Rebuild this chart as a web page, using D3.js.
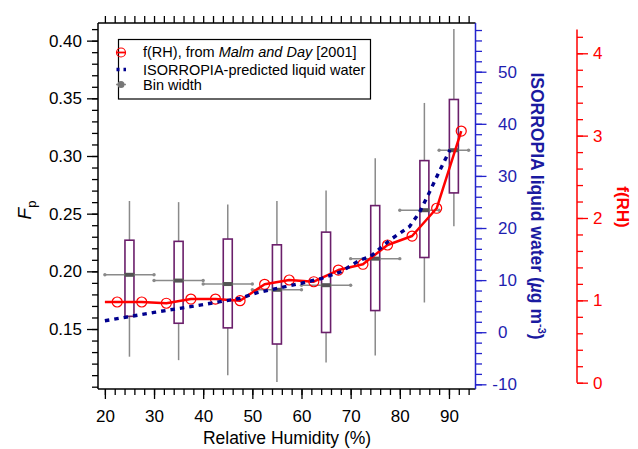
<!DOCTYPE html>
<html>
<head>
<meta charset="utf-8">
<script src="https://cdn.jsdelivr.net/npm/d3@7"></script>
<style>
  body { margin: 0; background: #fff; }
  svg { display: block; font-family: "Liberation Sans", Arial, Helvetica, sans-serif; }
</style>
</head>
<body>
<svg id="chart" width="638" height="449"></svg>
<script>
// ---- Fp box statistics per RH bin ----
const boxRH   = [25, 35, 45, 55, 65, 75, 85, 91];
const binLo   = [20, 30, 40, 50, 60, 70, 80, 88];
const binHi   = [30, 40, 50, 60, 70, 80, 88, 94];
const whiskLo = [0.126, 0.123, 0.110, 0.104, 0.121, 0.127, 0.173, 0.239];
const q1      = [0.161, 0.155, 0.151, 0.137, 0.147, 0.166, 0.212, 0.268];
const median  = [0.197, 0.192, 0.189, 0.184, 0.188, 0.211, 0.253, 0.305];
const q3      = [0.227, 0.226, 0.228, 0.223, 0.234, 0.257, 0.296, 0.349];
const whiskHi = [0.261, 0.260, 0.258, 0.261, 0.270, 0.298, 0.346, 0.410];

// ---- f(RH) from Malm and Day [2001] ----
const frhRH  = [20, 22.5, 27.5, 32.5, 37.5, 42.5, 47.5, 52.5, 57.5, 62.5, 67.5, 72.5, 77.5, 82.5, 87.5, 92.5];
const frhVal = [0.98, 0.98, 0.98, 0.965, 1.016, 1.016, 0.996, 1.195, 1.247, 1.226, 1.368, 1.438, 1.672, 1.781, 2.118, 3.056];
const frhMarked = [false, true, true, true, true, true, true, true, true, true, true, true, true, true, true, true];

// ---- ISORROPIA-predicted liquid water (ug m-3) ----
const lwRH  = [20, 30, 40, 47.5, 51, 60, 64, 68, 72, 74, 78, 82, 84, 86, 88, 90.2];
const lwVal = [2.2, 3.8, 5.3, 6.5, 7.6, 9.4, 10.3, 11.6, 13.9, 14.5, 17.7, 20.3, 23.0, 26.8, 30.8, 35.0];

// ---- tick values ----
const xMajor   = [20, 30, 40, 50, 60, 70, 80, 90];
const fpMajor  = [0.15, 0.20, 0.25, 0.30, 0.35, 0.40];
const lwMajor  = [-10, 0, 10, 20, 30, 40, 50];
const frhMajor = [0, 1, 2, 3, 4];

const xMinor   = d3.range(20, 95, 2);
const fpMinor  = d3.range(10, 42).map(d => d / 100);
const lwMinor  = d3.range(-10, 59, 2);
const frhMinor = d3.range(0, 22).map(d => d / 5);

// ---- layout ----
const L = 98, R = 475.5, T = 23, B = 389;
const BLUE_AXIS = "#2323cc", BLUE_TEXT = "#1e1eb0", BLUE_TITLE = "#1a1aa0";
const RED = "#ff0000", PURPLE = "#6b1f6b", GREY = "#8a8a8a";

const svg = d3.select("#chart");

const x   = d3.scaleLinear().domain([18.6, 95.4]).range([L, R]);
const yF  = d3.scaleLinear().domain([0.098, 0.4153]).range([B, T]);
const yLW = d3.scaleLinear().domain([-10.9, 59.35]).range([B, T]);
const yR  = d3.scaleLinear().domain([0, 4.29]).range([382.7, 29.4]);

function styleAxis(g, color, fontSize) {
  g.attr("font-family", null).attr("font-size", null);
  g.select(".domain").remove();
  g.selectAll(".tick line").attr("stroke", color).attr("stroke-width", 1.3);
  g.selectAll(".tick text").attr("fill", color).style("font-size", fontSize + "px");
}

// bottom axis
svg.append("g").attr("transform", `translate(0,${B})`)
  .call(d3.axisBottom(x).tickValues(xMinor).tickSize(6).tickFormat(""))
  .call(g => styleAxis(g, "#000", 17));
svg.append("g").attr("transform", `translate(0,${B})`)
  .call(d3.axisBottom(x).tickValues(xMajor).tickSize(10).tickPadding(11).tickFormat(d3.format("d")))
  .call(g => styleAxis(g, "#000", 17));

// top axis (ticks only)
svg.append("g").attr("transform", `translate(0,${T})`)
  .call(d3.axisTop(x).tickValues(xMinor).tickSize(7).tickFormat(""))
  .call(g => styleAxis(g, "#000", 17));

// left axis
svg.append("g").attr("transform", `translate(${L},0)`)
  .call(d3.axisLeft(yF).tickValues(fpMinor).tickSize(6).tickFormat(""))
  .call(g => styleAxis(g, "#000", 17));
svg.append("g").attr("transform", `translate(${L},0)`)
  .call(d3.axisLeft(yF).tickValues(fpMajor).tickSize(11).tickPadding(5).tickFormat(d3.format(".2f")))
  .call(g => styleAxis(g, "#000", 17));

// right axis: liquid water
svg.append("g").attr("transform", `translate(${R},0)`)
  .call(d3.axisRight(yLW).tickValues(lwMinor).tickSize(6.5).tickFormat(""))
  .call(g => styleAxis(g, BLUE_AXIS, 17));
svg.append("g").attr("transform", `translate(${R},0)`)
  .call(d3.axisRight(yLW).tickValues(lwMajor).tickSize(11).tickPadding(11.5).tickFormat(d => String(d)))
  .call(g => {
    styleAxis(g, BLUE_AXIS, 17);
    g.selectAll(".tick text").attr("fill", BLUE_TEXT).attr("dx", d => d < 0 ? "-0.333em" : null);
  });

// far right axis: f(RH)
svg.append("g").attr("transform", "translate(577,0)")
  .call(d3.axisRight(yR).tickValues(frhMinor).tickSize(6).tickFormat(""))
  .call(g => styleAxis(g, RED, 17));
svg.append("g").attr("transform", "translate(577,0)")
  .call(d3.axisRight(yR).tickValues(frhMajor).tickSize(11).tickPadding(5).tickFormat(d3.format("d")))
  .call(g => styleAxis(g, RED, 17));
svg.append("line")
  .attr("x1", 577).attr("x2", 577).attr("y1", yR.range()[0]).attr("y2", yR.range()[1])
  .attr("stroke", RED).attr("stroke-width", 1.5);

// plot frame
const frame = svg.append("g").attr("stroke-width", 1.5).attr("fill", "none");
frame.append("line").attr("x1", L).attr("x2", L).attr("y1", T).attr("y2", B).attr("stroke", "#000");
frame.append("line").attr("x1", L).attr("x2", R).attr("y1", T).attr("y2", T).attr("stroke", "#000");
frame.append("line").attr("x1", L).attr("x2", R).attr("y1", B).attr("y2", B).attr("stroke", "#000");
frame.append("line").attr("x1", R).attr("x2", R).attr("y1", T).attr("y2", B).attr("stroke", BLUE_AXIS);

// ---- box plots ----
const boxes = boxRH.map((rh, i) => ({
  rh, lo: binLo[i], hi: binHi[i],
  wl: whiskLo[i], q1: q1[i], med: median[i], q3: q3[i], wh: whiskHi[i]
}));
const BW = 9;
const bx = svg.append("g");
bx.selectAll(".wh").data(boxes).join("line")
  .attr("x1", d => x(d.rh)).attr("x2", d => x(d.rh))
  .attr("y1", d => yF(d.wh)).attr("y2", d => yF(d.q3))
  .attr("stroke", GREY).attr("stroke-width", 1.5);
bx.selectAll(".wl").data(boxes).join("line")
  .attr("x1", d => x(d.rh)).attr("x2", d => x(d.rh))
  .attr("y1", d => yF(d.q1)).attr("y2", d => yF(d.wl))
  .attr("stroke", GREY).attr("stroke-width", 1.5);
bx.selectAll(".box").data(boxes).join("rect")
  .attr("x", d => x(d.rh) - BW / 2).attr("width", BW)
  .attr("y", d => yF(d.q3)).attr("height", d => yF(d.q1) - yF(d.q3))
  .attr("fill", "#fff").attr("stroke", PURPLE).attr("stroke-width", 1.6);
// bin width bars
bx.selectAll(".bin").data(boxes).join("line")
  .attr("x1", d => x(d.lo)).attr("x2", d => x(d.hi))
  .attr("y1", d => yF(d.med)).attr("y2", d => yF(d.med))
  .attr("stroke", GREY).attr("stroke-width", 1.5);
bx.selectAll(".binL").data(boxes).join("circle")
  .attr("cx", d => x(d.lo)).attr("cy", d => yF(d.med)).attr("r", 1.7).attr("fill", GREY);
bx.selectAll(".binH").data(boxes).join("circle")
  .attr("cx", d => x(d.hi)).attr("cy", d => yF(d.med)).attr("r", 1.7).attr("fill", GREY);
// medians
bx.selectAll(".med").data(boxes).join("rect")
  .attr("x", d => x(d.rh) - BW / 2 - 0.5).attr("width", BW + 1)
  .attr("y", d => yF(d.med) - 2).attr("height", 4)
  .attr("fill", "#555");

// ---- f(RH) line ----
const frh = frhRH.map((rh, i) => ({ rh, v: frhVal[i], m: frhMarked[i] }));
svg.append("path").datum(frh)
  .attr("d", d3.line().x(d => x(d.rh)).y(d => yR(d.v)))
  .attr("fill", "none").attr("stroke", RED).attr("stroke-width", 2.5).attr("stroke-linejoin", "round");
svg.append("g").selectAll("circle").data(frh.filter(d => d.m)).join("circle")
  .attr("cx", d => x(d.rh)).attr("cy", d => yR(d.v)).attr("r", 5)
  .attr("fill", "none").attr("stroke", RED).attr("stroke-width", 1.2);

// ---- liquid water line ----
const lw = lwRH.map((rh, i) => ({ rh, v: lwVal[i] }));
svg.append("path").datum(lw)
  .attr("d", d3.line().x(d => x(d.rh)).y(d => yLW(d.v)))
  .attr("fill", "none").attr("stroke", "#00008e").attr("stroke-width", 3.4)
  .attr("stroke-dasharray", "4.5,5");

// ---- axis titles ----
svg.append("text").attr("x", 287).attr("y", 444).attr("text-anchor", "middle")
  .style("font-size", "17.5px").text("Relative Humidity (%)");

const fp = svg.append("text").attr("transform", "translate(31,210) rotate(-90)")
  .attr("text-anchor", "middle").style("font-size", "19px");
fp.append("tspan").style("font-style", "italic").text("F");
fp.append("tspan").attr("dy", 5).style("font-size", "13px").text("p");

const lwt = svg.append("text").attr("transform", "translate(531,206) rotate(90)")
  .attr("text-anchor", "middle").attr("fill", BLUE_TITLE)
  .style("font-size", "17.5px").style("font-weight", "bold");
lwt.append("tspan").text("ISORROPIA liquid water (");
lwt.append("tspan").style("font-style", "italic").text("µ");
lwt.append("tspan").text("g m");
lwt.append("tspan").attr("dy", -7).style("font-size", "11px").text("-3");
lwt.append("tspan").attr("dy", 7).text(")");

svg.append("text").attr("transform", "translate(617,207) rotate(90)")
  .attr("text-anchor", "middle").attr("fill", RED)
  .style("font-size", "17px").style("font-weight", "bold").text("f(RH)");

// ---- legend ----
const lg = svg.append("g");
lg.append("rect").attr("x", 118.5).attr("y", 39.5).attr("width", 252).attr("height", 59.5)
  .attr("fill", "#fff").attr("stroke", "#000").attr("stroke-width", 1.2);
const rows = [52.5, 69.5, 84.5];
// f(RH)
lg.append("line").attr("x1", 116.5).attr("x2", 125.5).attr("y1", rows[0]).attr("y2", rows[0])
  .attr("stroke", RED).attr("stroke-width", 1.8);
lg.append("circle").attr("cx", 121).attr("cy", rows[0]).attr("r", 4.5)
  .attr("fill", "none").attr("stroke", RED).attr("stroke-width", 1.2);
// liquid water
lg.append("line").attr("x1", 116.5).attr("x2", 126).attr("y1", rows[1]).attr("y2", rows[1])
  .attr("stroke", "#00008e").attr("stroke-width", 3.4).attr("stroke-dasharray", "3,4");
// bin width
lg.append("line").attr("x1", 116).attr("x2", 126).attr("y1", rows[2]).attr("y2", rows[2])
  .attr("stroke", GREY).attr("stroke-width", 1.5);
lg.append("circle").attr("cx", 121).attr("cy", rows[2]).attr("r", 3.5).attr("fill", "#777");

const t1 = lg.append("text").attr("x", 143).attr("y", rows[0] + 4.5).style("font-size", "14.5px");
t1.append("tspan").text("f(RH), from ");
t1.append("tspan").style("font-style", "italic").text("Malm and Day");
t1.append("tspan").text(" [2001]");
lg.append("text").attr("x", 143).attr("y", rows[1] + 5).style("font-size", "14.5px")
  .text("ISORROPIA-predicted liquid water");
lg.append("text").attr("x", 143).attr("y", rows[2] + 5).style("font-size", "14.5px")
  .text("Bin width");
</script>
</body>
</html>
